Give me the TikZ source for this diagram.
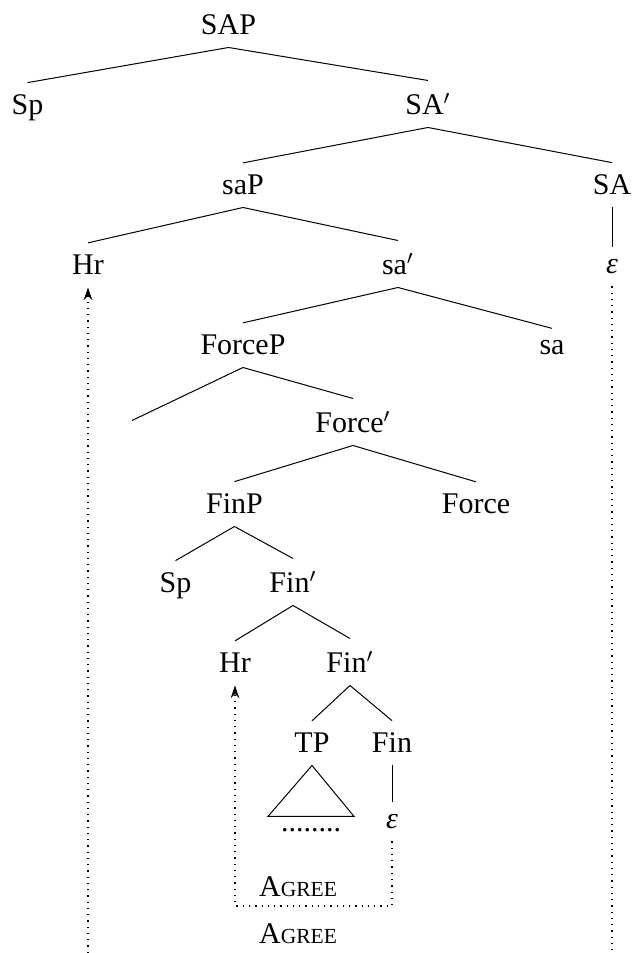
\documentclass[tikz,border=0pt]{standalone}
\usepackage{fontspec}
\setmainfont{Liberation Serif}
\usepackage{tikz}
\usetikzlibrary{calc,arrows.meta,positioning}

\newcommand{\agreelabel}{A{\fontsize{8.6pt}{10pt}\selectfont GREE}}
\newcommand{\emptyeps}{{\itshape ε}}

\begin{document}
\begin{tikzpicture}[x=0.4pt,y=0.4pt,
  every node/.style={font=\fontsize{12pt}{14pt}\selectfont},
  cat/.style={anchor=base,text depth=0pt,inner xsep=2pt,inner ysep=4.8pt},
  link/.style={dotted,line width=0.5pt}]
\useasboundingbox (0,0) rectangle (632,953);
\coordinate (bottom) at (0,0);
\coordinate (agreeline) at (0,47);
% upper part
\node[cat] (sap) at (228.5,918) {SAP};
\node[cat] (sp) at (27.5,838) {Sp};
\node[cat] (sabar) at (428,838) {SA$'$};
\node[cat] (sasmall) at (243,758) {saP};
\node[cat] (sahead) at (612,758) {SA};
\node[cat] (hrtop) at (88,678) {Hr};
\node[cat] (sabarsmall) at (398,678) {sa$'$};
\node[cat] (epstop) at (612,679) {\emptyeps};
\node[cat] (forcep) at (243,598) {ForceP};
\node[cat] (sasmallhead) at (552,598) {sa};
\node[cat] (forceleft) at (132,520) {};
\node[cat] (forcebar) at (353,520) {Force$'$};
% lower part
\node[cat] (finp) at (234.5,439) {FinP};
\node[cat] (forcehead) at (476,439) {Force};
\node[cat] (splow) at (175.5,360) {Sp};
\node[cat] (finbar) at (293,360) {Fin$'$};
\node[cat] (hrlow) at (235,280) {Hr};
\node[cat] (finbarlow) at (350,280) {Fin$'$};
\node[cat] (tp) at (312,200) {TP};
\node[cat] (fin) at (392,200) {Fin};
\node[cat] (dots) at (311,121) {........};
\node[cat] (epsfin) at (392,124) {\emptyeps};
\node[anchor=base] (agreeone) at (298,56) {\agreelabel};
\node[anchor=base] (agreetwo) at (298,9) {\agreelabel};

\draw (sap.south) -- (sp.north);
\draw (sap.south) -- (sabar.north);
\draw (sabar.south) -- (sasmall.north);
\draw (sabar.south) -- (sahead.north);
\draw (sahead.south) -- (epstop.north);
\draw (sasmall.south) -- (hrtop.north);
\draw (sasmall.south) -- (sabarsmall.north);
\draw (sabarsmall.south) -- (forcep.north);
\draw (sabarsmall.south) -- (sasmallhead.north);
\draw (forcep.south) -- (forceleft.north);
\draw (forcep.south) -- (forcebar.north);
\draw (forcebar.south) -- (finp.north);
\draw (forcebar.south) -- (forcehead.north);
\draw (finp.south) -- (splow.north);
\draw (finp.south) -- (finbar.north);
\draw (finbar.south) -- (hrlow.north);
\draw (finbar.south) -- (finbarlow.north);
\draw (finbarlow.south) -- (tp.north);
\draw (finbarlow.south) -- (fin.north);
\draw (fin.south) -- (epsfin.north);
\draw (tp.south) -- ($(dots.north)+(-43,0)$) -- ($(dots.north)+(43,0)$) -- cycle;

% agreement paths
\draw[link,-{Stealth[length=5pt,width=3.4pt]}] (epsfin.south) |- (hrlow.south |- agreeline) -- (hrlow.south);
\draw[link,-{Stealth[length=5pt,width=3.4pt]}] (hrtop.south |- bottom) -- (hrtop.south);
\draw[link] (epstop.south) -- (epstop.south |- bottom);
\end{tikzpicture}
\end{document}
